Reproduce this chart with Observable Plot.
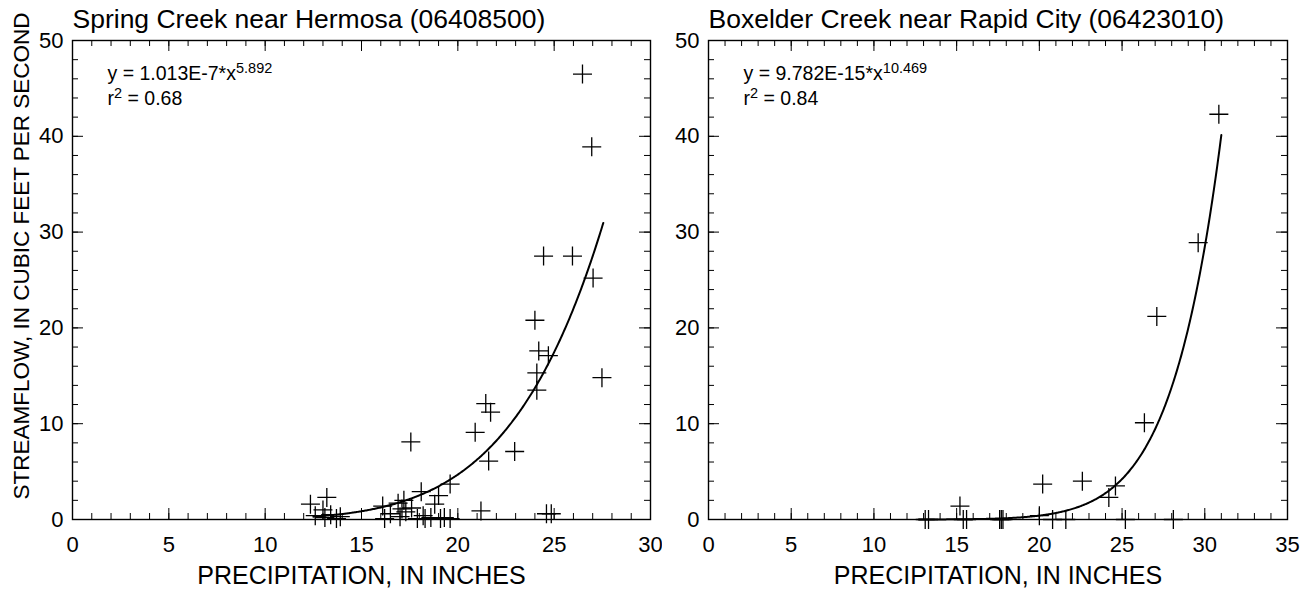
<!DOCTYPE html>
<html><head><meta charset="utf-8">
<script src="https://cdn.jsdelivr.net/npm/d3@7"></script>
<script src="https://cdn.jsdelivr.net/npm/@observablehq/plot@0.6"></script>
<style>
body{margin:0;background:#fff;}
#wrap{display:flex;width:1307px;height:590px;overflow:hidden;}
</style></head><body><div id="wrap"></div>
<script>
// ---- data ----
const springTitle = "Spring Creek near Hermosa (06408500)";
const springPrecip = [12.35,12.6,13.0,13.2,13.1,13.4,13.7,13.9,16.1,16.2,16.5,16.9,17.0,17.1,17.2,17.3,17.56,17.6,17.9,18.1,18.2,18.3,18.6,18.8,19.0,19.1,19.3,19.6,19.6,20.9,21.2,21.45,21.6,21.7,22.95,24.0,24.1,24.1,24.2,24.45,24.6,24.7,24.85,25.95,26.47,26.95,27.02,27.48];
const springFlow   = [1.6,0.4,1.0,2.3,0.2,0.5,0.1,0.3,1.4,0.1,0.6,1.7,0.3,1.1,2.0,0.8,8.1,1.2,0.1,2.9,0.4,0.1,0.2,1.6,2.5,0.1,0.2,3.7,0.1,9.1,0.9,12.1,6.1,11.2,7.1,20.8,13.5,15.3,17.6,27.5,0.6,17.1,0.6,27.5,46.5,38.9,25.2,14.8];
const springCoef = 1.013e-7, springExp = 5.892, springRange = [12.5, 27.55];
const springEq = ["y = 1.013E-7*x", "5.892"], springR2 = "0.68";

const boxTitle = "Boxelder Creek near Rapid City (06423010)";
const boxPrecip = [13.1,13.3,15.2,15.4,15.6,17.6,17.7,17.8,20.0,20.2,20.8,21.6,22.6,24.2,24.6,25.2,26.35,27.1,28.1,29.6,30.85];
const boxFlow   = [0,0,1.4,0,0,0,0,0,0.4,3.7,0,0,4.0,2.3,3.5,0,10.1,21.2,0,28.9,42.3];
const boxCoef = 9.782e-15, boxExp = 10.469, boxRange = [12.7, 31.0];
const boxEq = ["y = 9.782E-15*x", "10.469"], boxR2 = "0.84";

const xLabel = "PRECIPITATION, IN INCHES";
const yLabel = "STREAMFLOW, IN CUBIC FEET PER SECOND";
const yTicks = [0,10,20,30,40,50];
const yMinor = d3.range(0, 51, 2);

const FONT = "'Liberation Sans', Arial, Helvetica, sans-serif";
const H = 590, MT = 40, MB = 71;
const innerH = H - MT - MB;

// cross symbol (thin plus)
const cross = {draw(ctx, size){ const r = Math.sqrt(size/Math.PI); ctx.moveTo(-r,0); ctx.lineTo(r,0); ctx.moveTo(0,-r); ctx.lineTo(0,r); }};

function panel({title, px, py, coef, expo, range, eq, r2, xmax, width, ml, mr, showYLabel}) {
  const innerW = width - ml - mr;
  const xTicks = d3.range(0, xmax+1, 5);
  const xMinor = d3.range(0, xmax+1, 1);
  const pts = px.map((x,i)=>({x, y: py[i]}));
  const curve = d3.range(range[0], range[1]+1e-9, 0.05).concat([range[1]]).map(x=>({x, y: coef*Math.pow(x, expo)}));
  const MAJ = 11, MIN = 6;
  const marks = [
    Plot.ruleX(xTicks, {insetTop: innerH-MAJ, stroke:"#000"}),
    Plot.ruleX(xMinor, {insetTop: innerH-MIN, stroke:"#000"}),
    Plot.ruleX(xTicks, {insetBottom: innerH-MAJ, stroke:"#000"}),
    Plot.ruleX(xMinor, {insetBottom: innerH-MIN, stroke:"#000"}),
    Plot.ruleY(yTicks, {insetRight: innerW-MAJ, stroke:"#000"}),
    Plot.ruleY(yMinor, {insetRight: innerW-MIN, stroke:"#000"}),
    Plot.ruleY(yTicks, {insetLeft: innerW-MAJ, stroke:"#000"}),
    Plot.ruleY(yMinor, {insetLeft: innerW-MIN, stroke:"#000"}),
    Plot.frame({stroke:"#000", strokeWidth:1.4}),
    Plot.axisX(xTicks, {anchor:"bottom", tickSize:0, tickPadding:17, fontSize:22, label:null, fill:"#000"}),
    Plot.axisY(yTicks, {anchor:"left", tickSize:0, tickPadding:9, fontSize:22, label:null, fill:"#000"}),
    Plot.line(curve, {x:"x", y:"y", stroke:"#000", strokeWidth:2, curve:"linear"}),
    Plot.dot(pts, {x:"x", y:"y", symbol: cross, r: 9.5, stroke:"#000", strokeWidth:1.3, fill:"none"}),
    Plot.text([title], {text:d=>d, frameAnchor:"top-left", dy:-21, textAnchor:"start", lineAnchor:"middle", fontSize:26.5, fill:"#000"}),
    Plot.text([eq[0]], {text:d=>d, frameAnchor:"top-left", dx:35, dy:33, textAnchor:"start", lineAnchor:"middle", fontSize:19.5, fill:"#000"}),
    Plot.text(["r"], {text:d=>d, frameAnchor:"top-left", dx:35, dy:58, textAnchor:"start", lineAnchor:"middle", fontSize:19.5, fill:"#000"}),
    Plot.text([xLabel], {text:d=>d, frameAnchor:"bottom", dy:56, textAnchor:"middle", lineAnchor:"middle", fontSize:25, fill:"#000"})
  ];
  if (showYLabel) marks.push(Plot.text([yLabel], {text:d=>d, frameAnchor:"left", rotate:-90, dx:-51, dy:-24, textAnchor:"middle", lineAnchor:"middle", fontSize:22.5, fill:"#000"}));
  const svg = Plot.plot({
    width, height: H, marginLeft: ml, marginRight: mr, marginTop: MT, marginBottom: MB,
    x: {domain:[0,xmax], axis:null}, y: {domain:[0,50], axis:null},
    style: {fontFamily: FONT, color:"#000", background:"#fff", overflow:"visible"},
    marks
  });
  // superscripts
  const ns = "http://www.w3.org/2000/svg";
  svg.querySelectorAll("text").forEach(t => {
    if (t.textContent === eq[0]) {
      const s = document.createElementNS(ns, "tspan"); s.setAttribute("dy", "-7"); s.setAttribute("font-size", "14.5"); s.textContent = eq[1]; t.appendChild(s);
    } else if (t.textContent === "r") {
      const s = document.createElementNS(ns, "tspan"); s.setAttribute("dy", "-7"); s.setAttribute("font-size", "14.5"); s.textContent = "2"; t.appendChild(s);
      const a = document.createElementNS(ns, "tspan"); a.setAttribute("dy", "7"); a.textContent = " = " + r2; t.appendChild(a);
    }
  });
  return svg;
}

const wrap = document.getElementById("wrap");
wrap.appendChild(panel({title: springTitle, px: springPrecip, py: springFlow, coef: springCoef, expo: springExp, range: springRange, eq: springEq, r2: springR2, xmax: 30, width: 662, ml: 72, mr: 12, showYLabel: true}));
wrap.appendChild(panel({title: boxTitle, px: boxPrecip, py: boxFlow, coef: boxCoef, expo: boxExp, range: boxRange, eq: boxEq, r2: boxR2, xmax: 35, width: 645, ml: 46, mr: 20, showYLabel: false}));
</script></body></html>
